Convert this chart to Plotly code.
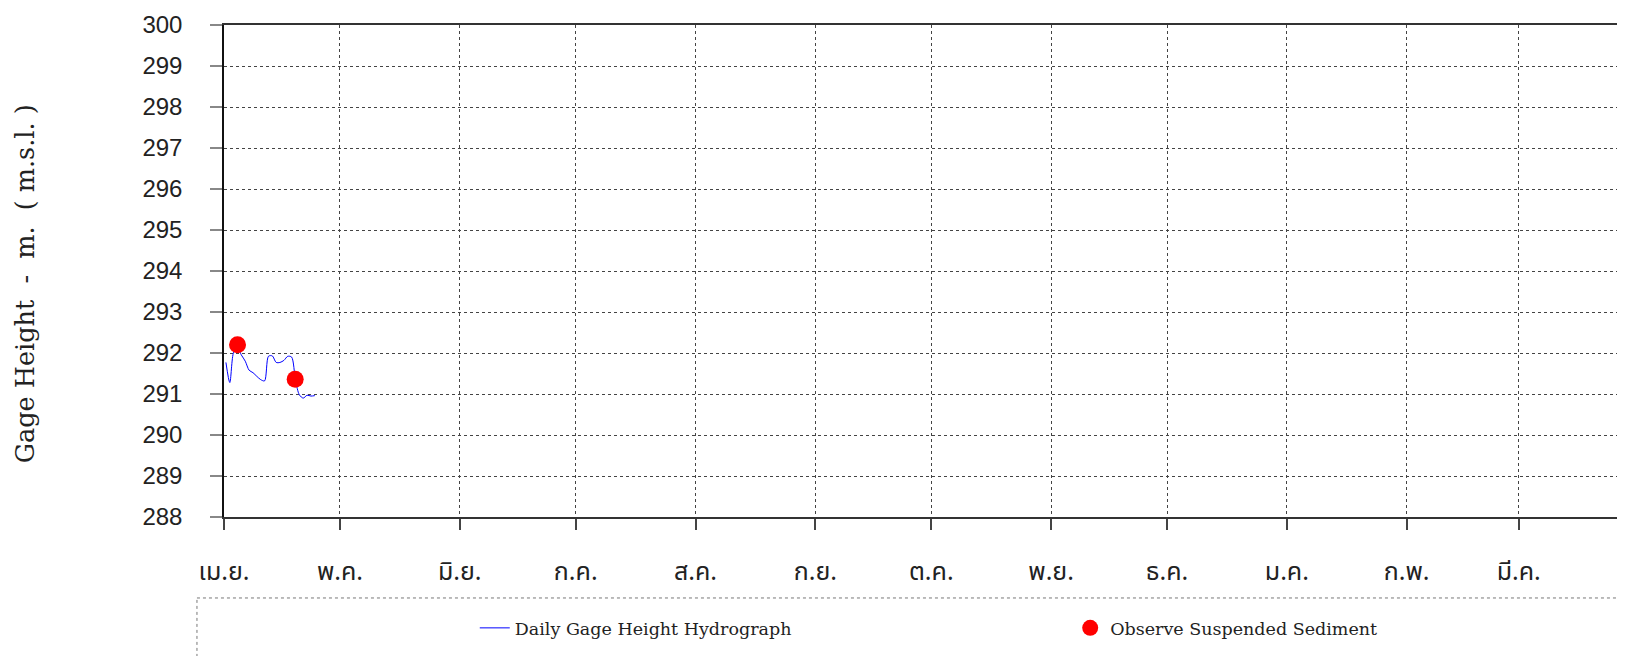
import plotly.graph_objects as go

# ---- data ----
dates = ["2023-04-%02d 12:00" % d for d in range(1, 25)]
gage_height = [291.77, 291.28, 292.02, 292.12, 291.95, 291.80, 291.58, 291.52,
               291.43, 291.35, 291.32, 291.92, 291.93, 291.77, 291.77, 291.82,
               291.92, 291.90, 291.33, 290.98, 290.90, 290.97, 290.95, 290.96]
sed_dates = ["2023-04-04 12:00", "2023-04-19 10:00"]
sed_height = [292.20, 291.36]
month_ticks = ["2023-04-01", "2023-05-01", "2023-06-01", "2023-07-01", "2023-08-01",
               "2023-09-01", "2023-10-01", "2023-11-01", "2023-12-01", "2024-01-01",
               "2024-02-01", "2024-03-01"]
month_labels = ["เม.ย.", "พ.ค.", "มิ.ย.", "ก.ค.", "ส.ค.", "ก.ย.", "ต.ค.", "พ.ย.",
                "ธ.ค.", "ม.ค.", "ก.พ.", "มี.ค."]
y_ticks = list(range(288, 301))

serif = "DejaVu Serif, Liberation Serif, serif"
legend_font = dict(family=serif, size=17.5, color="#222")

fig = go.Figure()
fig.add_trace(go.Scatter(
    x=dates, y=gage_height, mode="lines", name="Daily Gage Height Hydrograph",
    line=dict(color="#0000ff", width=1, shape="spline", smoothing=0.8),
    legend="legend",
))
fig.add_trace(go.Scatter(
    x=sed_dates, y=sed_height, mode="markers", name="Observe Suspended Sediment",
    marker=dict(color="#ff0000", size=17),
    legend="legend2",
))

# page body adds an 8px offset, so the figure is 8px smaller than the window
fig.update_layout(
    width=1617, height=648,
    margin=dict(l=216, r=0, t=17, b=139),
    plot_bgcolor="white", paper_bgcolor="white",
    showlegend=True,
    legend=dict(
        x=0.179, y=-0.2256, xanchor="left", yanchor="middle",
        font=legend_font, bgcolor="rgba(0,0,0,0)",
    ),
    legend2=dict(
        x=0.604, y=-0.2256, xanchor="left", yanchor="middle",
        font=legend_font, bgcolor="rgba(0,0,0,0)",
    ),
    annotations=[dict(
        text="Gage Height  -  m.  ( m.s.l. )", textangle=-90,
        xref="paper", yref="paper", x=-0.142, y=0.473,
        xanchor="center", yanchor="middle", showarrow=False,
        font=dict(family=serif, size=25.5, color="#222"),
    )],
    shapes=[dict(
        type="rect", xref="paper", yref="paper",
        x0=-0.0193, x1=1.2, y0=-0.1646, y1=-0.6,
        line=dict(color="#777", width=1, dash="dot"),
    )],
)

fig.update_xaxes(
    type="date", range=["2023-04-01", "2024-03-28 12:00"],
    tickvals=month_ticks, ticktext=month_labels,
    ticks="outside", ticklen=11, tickcolor="#444", tickwidth=1.5,
    ticklabelstandoff=20,
    tickfont=dict(family="Noto Sans Thai, Tahoma, Noto Sans, sans-serif", size=25, color="#222"),
    showgrid=True, gridcolor="#444", gridwidth=1, griddash="dot",
    showline=True, linecolor="#333", linewidth=2, mirror=True,
    zeroline=False,
)
fig.update_yaxes(
    range=[288, 300], tickvals=y_ticks,
    ticks="outside", ticklen=12, tickcolor="#888", tickwidth=1.5,
    ticklabelstandoff=23,
    tickfont=dict(family="Liberation Sans, Arial, sans-serif", size=24, color="#222"),
    showgrid=True, gridcolor="#444", gridwidth=1, griddash="dot",
    showline=True, linecolor="#111", linewidth=1.5,
    zeroline=False,
)

fig.write_html("out.html")
